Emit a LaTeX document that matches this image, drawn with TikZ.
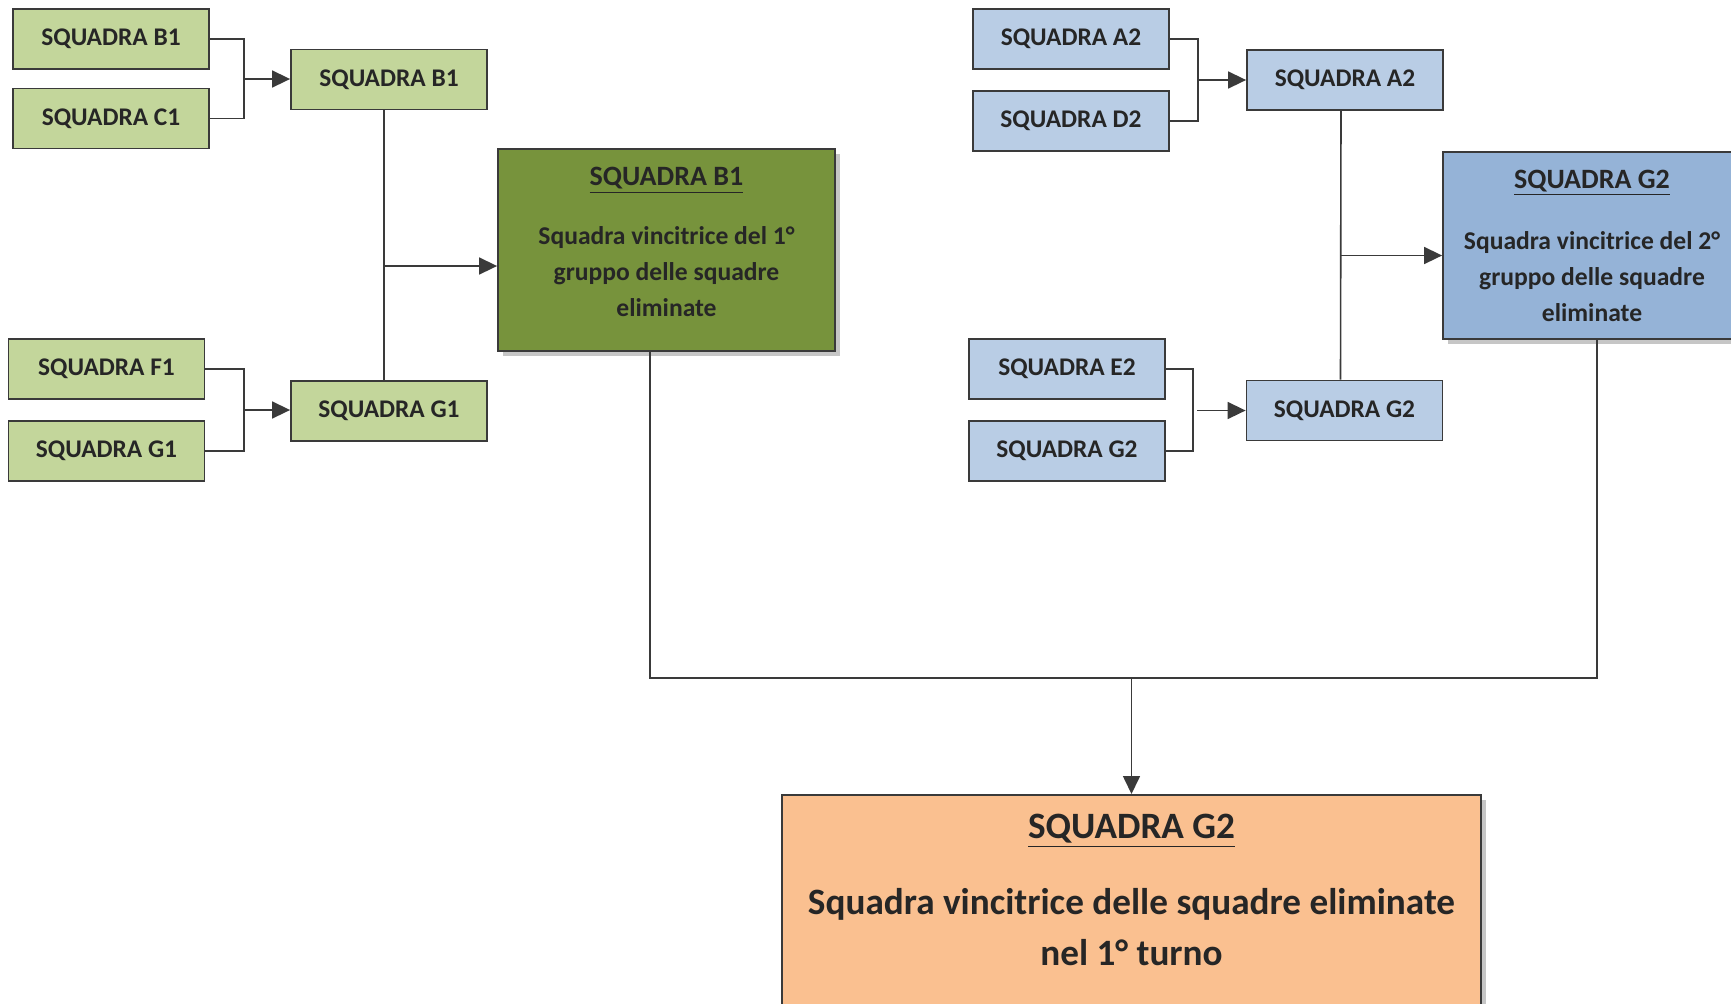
\documentclass[tikz,border=0pt]{standalone}
\usepackage{fontspec}
\setmainfont{Carlito}
\usepackage{tikz}
\usetikzlibrary{arrows.meta}
\usetikzlibrary{shadows}

\definecolor{lightgreen}{HTML}{C3D69B}
\definecolor{darkgreen}{HTML}{77933C}
\definecolor{lightblue}{HTML}{B9CDE5}
\definecolor{midblue}{HTML}{95B3D7}
\definecolor{peach}{HTML}{FAC090}
\definecolor{inkgray}{HTML}{262626}
\definecolor{rulegray}{HTML}{3A3A3A}

\begin{document}
\begin{tikzpicture}[x=0.5pt,y=-0.5pt,
  team/.style={draw=rulegray,line width=0.9pt,minimum width=98pt,minimum height=30pt,inner sep=0pt,text=inkgray,font=\fontsize{12.7}{15}\selectfont\bfseries},
  teamgreen/.style={team,fill=lightgreen},
  teamblue/.style={team,fill=lightblue},
  winner/.style={draw=rulegray,line width=0.9pt,inner sep=0pt,align=center,text=inkgray,font=\fontsize{12.8}{18}\selectfont\bfseries,drop shadow={shadow xshift=2.5pt,shadow yshift=-2.5pt,opacity=0.45}},
  link/.style={draw=rulegray,line width=0.8pt},
  tip/.style={link,-{Triangle[length=9pt,width=8.5pt]}}]

\useasboundingbox (0,0) rectangle (1731,1003);

% first group
\node[teamgreen] (b1) at (111,39) {SQUADRA B1};
\node[teamgreen] (c1) at (111,118.5) {SQUADRA C1};
\node[teamgreen] (f1) at (106.5,369) {SQUADRA F1};
\node[teamgreen] (g1) at (106.5,451) {SQUADRA G1};
\node[teamgreen] (mb1) at (389,79.5) {SQUADRA B1};
\node[teamgreen] (mg1) at (389,411) {SQUADRA G1};
\node[winner,fill=darkgreen,minimum width=168.5pt,minimum height=101pt] (bigg) at (666.5,250)
  {{\fontsize{14}{18}\selectfont\underline{SQUADRA B1}}\\[11.5pt]
   Squadra vincitrice del 1°\\ gruppo delle squadre\\ eliminate\rule[-8pt]{0pt}{0pt}};

% second group
\node[teamblue] (a2) at (1071,39) {SQUADRA A2};
\node[teamblue] (d2) at (1071,121) {SQUADRA D2};
\node[teamblue] (e2) at (1067,369) {SQUADRA E2};
\node[teamblue] (g2) at (1067,451) {SQUADRA G2};
\node[teamblue] (ma2) at (1345,80) {SQUADRA A2};
\node[teamblue] (mg2) at (1344.5,410.5) {SQUADRA G2};
\node[winner,fill=midblue,minimum width=149pt,minimum height=93.5pt] (bigb) at (1592,245.5)
  {{\fontsize{14}{18}\selectfont\underline{SQUADRA G2}}\\[12.5pt]
   Squadra vincitrice del 2°\\ gruppo delle squadre\\ eliminate};

% final
\node[winner,fill=peach,minimum width=349.5pt,minimum height=110pt,anchor=north] (fin) at (1131.5,794) {};
\node[align=center,text=inkgray,font=\fontsize{18.6}{25.5}\selectfont\bfseries] (fintxt) at (1131.5,890)
  {\underline{SQUADRA G2}\\[12.5pt]
   Squadra vincitrice delle squadre eliminate\\ nel 1° turno};

% junctions
\coordinate (jbc) at (244,79);
\coordinate (jfg) at (244,410);
\coordinate (jad) at (1198,80);
\coordinate (jeg) at (1193,410.5);
\coordinate (jg1) at (384,266);
\coordinate (jg2) at (1341,255.5);
\coordinate (lowfork) at (1131.5,678);

\draw[link] (b1.east) -| (jbc) |- (c1.east);
\draw[tip] (jbc) -- (jbc -| mb1.west);
\draw[link] (f1.east) -| (jfg) |- (g1.east);
\draw[tip] (jfg) -- (jfg -| mg1.west);
\draw[link] ([xshift=-2.5pt]mb1.south) -- ([xshift=-2.5pt]mg1.north);
\draw[tip] (jg1) -- (jg1 -| bigg.west);

\draw[link] (a2.east) -| (jad) |- (d2.east);
\draw[tip] (jad) -- (jad -| ma2.west);
\draw[link] (e2.east) -| (jeg) |- (g2.east);
\draw[tip,shorten <=2pt] (jeg) -- (jeg -| mg2.west);
\draw[link] ([xshift=-2pt]ma2.south) -- ([xshift=-2pt]mg2.north);
\draw[tip] (jg2) -- (jg2 -| bigb.west);

\draw[link] ([xshift=-8.25pt]bigg.south) |- (lowfork) -| ([xshift=2.5pt]bigb.south);
\draw[tip] (lowfork) -- (fin.north);
\end{tikzpicture}
\end{document}
